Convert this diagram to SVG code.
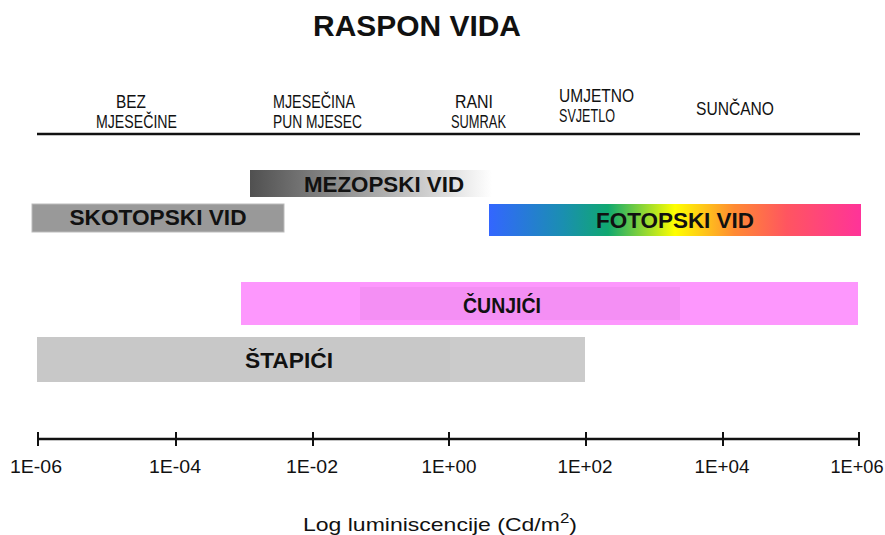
<svg xmlns="http://www.w3.org/2000/svg" width="885" height="535" viewBox="0 0 885 535">
<defs>
<linearGradient id="gMez" x1="0" x2="1" y1="0" y2="0">
<stop offset="0" stop-color="#505050"/>
<stop offset="0.35" stop-color="#8a8a8a"/>
<stop offset="1" stop-color="#ffffff"/>
</linearGradient>
<linearGradient id="gFot" x1="0" x2="1" y1="0" y2="0">
<stop offset="0" stop-color="#3366ff"/>
<stop offset="0.2" stop-color="#1a8fb0"/>
<stop offset="0.32" stop-color="#10a870"/>
<stop offset="0.5" stop-color="#ffff00"/>
<stop offset="0.66" stop-color="#ff8a33"/>
<stop offset="0.8" stop-color="#ff5560"/>
<stop offset="1" stop-color="#ff3399"/>
</linearGradient>
<style>
.hdr{font-family:"Liberation Sans",Arial,sans-serif;font-size:17.5px;fill:#111;text-anchor:middle}
.bar{font-family:"Liberation Sans",Arial,sans-serif;font-weight:bold;font-size:22px;fill:#111;text-anchor:middle}
.cbar{font-family:"Liberation Sans",Arial,sans-serif;font-weight:bold;font-size:22px;fill:#111;text-anchor:middle}
.ax{font-family:"Liberation Sans",Arial,sans-serif;font-size:19px;fill:#111;text-anchor:middle}
.tick{stroke:#111;stroke-width:2}
</style>
</defs>
<rect width="885" height="535" fill="#ffffff"/>
<text x="417" y="36" font-family="Liberation Sans,Arial,sans-serif" font-weight="bold" font-size="30" text-anchor="middle" fill="#111" textLength="208" lengthAdjust="spacingAndGlyphs">RASPON VIDA</text>

<g id="header">
<text class="hdr" x="131" y="108" textLength="30" lengthAdjust="spacingAndGlyphs">BEZ</text>
<text class="hdr" x="136.5" y="128" textLength="81" lengthAdjust="spacingAndGlyphs">MJESEČINE</text>
<text class="hdr" x="314" y="108" textLength="82" lengthAdjust="spacingAndGlyphs">MJESEČINA</text>
<text class="hdr" x="317.5" y="128" textLength="89" lengthAdjust="spacingAndGlyphs">PUN MJESEC</text>
<text class="hdr" x="474" y="108" textLength="38" lengthAdjust="spacingAndGlyphs">RANI</text>
<text class="hdr" x="478.5" y="128" textLength="55" lengthAdjust="spacingAndGlyphs">SUMRAK</text>
<text class="hdr" x="596.5" y="102" textLength="75" lengthAdjust="spacingAndGlyphs">UMJETNO</text>
<text class="hdr" x="587" y="122" textLength="56" lengthAdjust="spacingAndGlyphs">SVJETLO</text>
<text class="hdr" x="735" y="115" textLength="78" lengthAdjust="spacingAndGlyphs">SUNČANO</text>
<line x1="37" y1="134" x2="860" y2="134" stroke="#111" stroke-width="2.5"/>
</g>

<g id="mezopski">
<rect x="250" y="170" width="242" height="27" fill="url(#gMez)"/>
<text class="bar" x="384" y="192" textLength="160" lengthAdjust="spacingAndGlyphs">MEZOPSKI VID</text>
</g>
<g id="skotopski">
<rect x="32" y="204" width="252" height="28" fill="#999999" stroke="#bbbbbb" stroke-width="1"/>
<text class="bar" x="158" y="225" textLength="177" lengthAdjust="spacingAndGlyphs">SKOTOPSKI VID</text>
</g>
<g id="fotopski">
<rect x="489" y="204" width="372" height="32" fill="url(#gFot)"/>
<text class="bar" x="675" y="228" textLength="158" lengthAdjust="spacingAndGlyphs">FOTOPSKI VID</text>
</g>
<g id="cunjici">
<rect x="241" y="282" width="617" height="43" fill="#fd97fd"/>
<rect x="360" y="287" width="320" height="33" fill="#f48ff4"/>
<text class="cbar" x="502" y="313" textLength="78" lengthAdjust="spacingAndGlyphs">ČUNJIĆI</text>
</g>
<g id="stapici">
<rect x="37" y="337" width="548" height="45" fill="#c8c8c8"/>
<rect x="450" y="337" width="135" height="45" fill="#cbcbcb"/>
<text class="cbar" x="289" y="368" textLength="88" lengthAdjust="spacingAndGlyphs">ŠTAPIĆI</text>
</g>

<g id="axis">
<line x1="37" y1="439" x2="860" y2="439" stroke="#111" stroke-width="2.5"/>
<line class="tick" x1="38" y1="432" x2="38" y2="446"/>
<line class="tick" x1="176" y1="432" x2="176" y2="446"/>
<line class="tick" x1="313" y1="432" x2="313" y2="446"/>
<line class="tick" x1="449" y1="432" x2="449" y2="446"/>
<line class="tick" x1="586" y1="432" x2="586" y2="446"/>
<line class="tick" x1="723" y1="432" x2="723" y2="446"/>
<line class="tick" x1="859" y1="432" x2="859" y2="446"/>
<text class="ax" x="36" y="473" textLength="52" lengthAdjust="spacingAndGlyphs">1E-06</text>
<text class="ax" x="175" y="473" textLength="52" lengthAdjust="spacingAndGlyphs">1E-04</text>
<text class="ax" x="312" y="473" textLength="52" lengthAdjust="spacingAndGlyphs">1E-02</text>
<text class="ax" x="449" y="473" textLength="55" lengthAdjust="spacingAndGlyphs">1E+00</text>
<text class="ax" x="585" y="473" textLength="55" lengthAdjust="spacingAndGlyphs">1E+02</text>
<text class="ax" x="722" y="473" textLength="55" lengthAdjust="spacingAndGlyphs">1E+04</text>
<text class="ax" x="857" y="473" textLength="53" lengthAdjust="spacingAndGlyphs">1E+06</text>
<text class="ax" x="440" y="531" font-size="21" textLength="274" lengthAdjust="spacingAndGlyphs">Log luminiscencije (Cd/m<tspan font-size="14" dy="-8">2</tspan><tspan dy="8">)</tspan></text>
</g>
</svg>
